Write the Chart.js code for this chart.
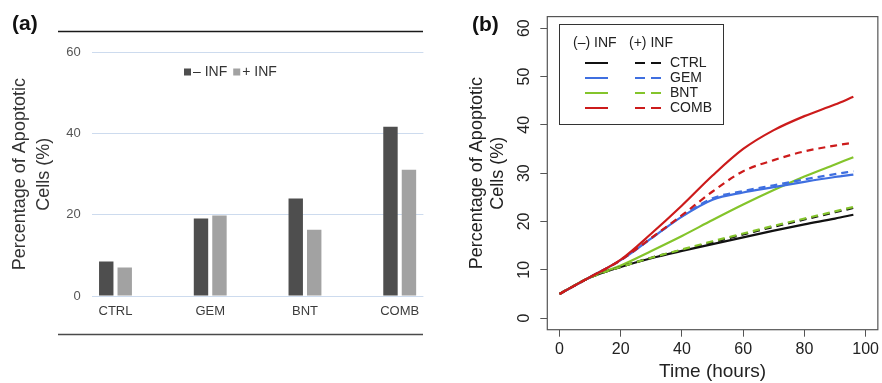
<!DOCTYPE html>
<html>
<head>
<meta charset="utf-8">
<script src="https://cdn.jsdelivr.net/npm/chart.js@4.4.1/dist/chart.umd.min.js"></script>
<style>
  html, body { margin: 0; padding: 0; background: #fff; }
  #wrap { position: relative; width: 882px; height: 383px; overflow: hidden; }
  #barChart { position: absolute; left: 0; top: 0; }
  #lineChart { position: absolute; left: 440px; top: 0; }
</style>
</head>
<body>
<div id="wrap">
  <canvas id="barChart" width="440" height="383"></canvas>
  <canvas id="lineChart" width="442" height="383"></canvas>
</div>
<script>
Chart.defaults.font.family = "'Liberation Sans', Arial, Helvetica, sans-serif";

// panel (a): apoptosis per treatment
let groups = ['CTRL', 'GEM', 'BNT', 'COMB'];
let barMinusInf = [8.5, 19.1, 24.0, 41.7];
let barPlusInf = [7.0, 19.8, 16.3, 31.1];
let barTicks = [0, 20, 40, 60];

// panel (b): simulated time course
let hours = [0, 10, 20, 30, 40, 50, 60, 70, 80, 90, 96];
let ctrlMinus = [5, 8.4, 10.6, 12.4, 13.9, 15.3, 16.7, 18.1, 19.4, 20.6, 21.4];
let ctrlPlus = [5, 8.4, 10.6, 12.5, 14.1, 15.7, 17.3, 18.9, 20.4, 21.9, 22.8];
let gemMinus = [5, 8.5, 12.0, 16.5, 21.0, 24.5, 26.0, 27.1, 28.2, 29.2, 29.7];
let gemPlus = [5, 8.5, 12.0, 16.5, 21.1, 24.8, 26.3, 27.5, 28.7, 29.8, 30.4];
let bntMinus = [5, 8.5, 10.9, 13.9, 17.0, 20.3, 23.5, 26.5, 29.3, 31.8, 33.3];
let bntPlus = [5, 8.4, 10.6, 12.5, 14.2, 15.9, 17.5, 19.1, 20.6, 22.1, 23.0];
let combMinus = [5, 8.5, 12.1, 17.5, 23.3, 29.5, 35.0, 38.9, 41.8, 44.2, 45.8];
let combPlus = [5, 8.5, 12.0, 16.6, 21.3, 26.2, 30.4, 32.7, 34.5, 35.7, 36.3];
let xTicksB = [0, 20, 40, 60, 80, 100];
let yTicksB = [0, 10, 20, 30, 40, 50, 60];
let lineColors = { CTRL: '#111111', GEM: '#3f6fe0', BNT: '#84c42b', COMB: '#cc1b1b' };

let fontStack = "'Liberation Sans', Arial, sans-serif";

let panelA = {
  id: 'panelA',
  afterDraw(chart) {
    let c = chart.ctx;
    c.save();
    c.lineWidth = 1.5;
    c.strokeStyle = '#1a1a1a';
    c.beginPath(); c.moveTo(58, 31.5); c.lineTo(423, 31.5); c.stroke();
    c.strokeStyle = '#4a4a4a';
    c.beginPath(); c.moveTo(58, 334.5); c.lineTo(423, 334.5); c.stroke();

    c.fillStyle = '#111';
    c.textBaseline = 'middle';
    c.font = 'bold 21px ' + fontStack;
    c.fillText('(a)', 12, 24);

    // legend sits inside the plot, under the 60 line
    c.font = '14px ' + fontStack;
    let x = 184, y = 72;
    chart.data.datasets.forEach(ds => {
      c.fillStyle = ds.backgroundColor;
      c.fillRect(x, y - 3.5, 7, 7);
      c.fillStyle = '#333';
      c.fillText(ds.label, x + 9, y);
      x += 9 + c.measureText(ds.label).width + 6;
    });
    c.restore();
  }
};

new Chart(document.getElementById('barChart'), {
  type: 'bar',
  data: {
    datasets: [
      {
        label: '\u2013 INF',
        data: groups.map((g, i) => ({ x: i, y: barMinusInf[i] })),
        backgroundColor: '#4e4e4e',
        categoryPercentage: 0.39,
        barPercentage: 0.78
      },
      {
        label: '+ INF',
        data: groups.map((g, i) => ({ x: i, y: barPlusInf[i] })),
        backgroundColor: '#a2a2a2',
        categoryPercentage: 0.39,
        barPercentage: 0.78
      }
    ]
  },
  options: {
    responsive: false,
    animation: false,
    devicePixelRatio: 1,
    layout: { padding: { left: 3, right: 16.6, top: 52.3, bottom: 47 } },
    plugins: { legend: { display: false }, tooltip: { enabled: false } },
    scales: {
      x: {
        type: 'linear',
        offset: false,
        min: -0.25,
        max: 3.25,
        afterBuildTicks: s => { s.ticks = groups.map((g, i) => ({ value: i })); },
        afterFit: s => { s.height = 40; },
        ticks: { callback: v => groups[v], padding: 8, color: '#3c3c3c', font: { size: 13 }, maxRotation: 0 },
        grid: { display: false, drawTicks: false, offset: false },
        border: { display: false }
      },
      y: {
        min: 0,
        max: 60,
        afterBuildTicks: s => { s.ticks = barTicks.map(v => ({ value: v })); },
        afterFit: s => { s.width = 88.8; },
        ticks: { padding: 11, color: '#555', font: { size: 13 } },
        grid: { color: '#cddbee', drawTicks: false },
        border: { display: false },
        title: {
          display: true,
          text: ['Percentage of Apoptotic', 'Cells (%)'],
          color: '#333',
          font: { size: 18, lineHeight: 1.33 },
          padding: { top: 5, bottom: 0 }
        }
      }
    }
  },
  plugins: [panelA]
});

let panelB = {
  id: 'panelB',
  afterDraw(chart) {
    let c = chart.ctx;
    let a = chart.chartArea;
    c.save();
    c.lineWidth = 1.2;
    c.strokeStyle = '#555';
    c.strokeRect(a.left, a.top, a.right - a.left, a.bottom - a.top);

    c.fillStyle = '#111';
    c.textBaseline = 'middle';
    c.font = 'bold 21px ' + fontStack;
    c.fillText('(b)', 32, 25);

    // two-column legend: solid = (-) INF, dashed = (+) INF
    c.lineWidth = 1;
    c.strokeStyle = '#333';
    c.strokeRect(119.5, 24.5, 164, 100);
    c.font = '14px ' + fontStack;
    c.fillStyle = '#222';
    c.fillText('(\u2013) INF', 133, 43);
    c.fillText('(+) INF', 189, 43);
    groups.forEach((g, i) => {
      let y = 63 + i * 15;
      c.strokeStyle = lineColors[g];
      c.lineWidth = 2;
      c.setLineDash([]);
      c.beginPath(); c.moveTo(145, y); c.lineTo(168, y); c.stroke();
      c.setLineDash([10, 6]);
      c.beginPath(); c.moveTo(195, y); c.lineTo(221, y); c.stroke();
      c.fillText(g, 230, y);
    });
    c.restore();
  }
};

let series = (label, values, color, dashed) => ({
  label: label,
  data: hours.map((h, i) => ({ x: h, y: values[i] })),
  borderColor: color,
  borderWidth: 2.2,
  borderDash: dashed ? [7, 5] : [],
  pointRadius: 0,
  cubicInterpolationMode: 'monotone',
  fill: false
});

new Chart(document.getElementById('lineChart'), {
  type: 'line',
  data: {
    datasets: [
      series('COMB (\u2013) INF', combMinus, lineColors.COMB, false),
      series('COMB (+) INF', combPlus, lineColors.COMB, true),
      series('BNT (+) INF', bntPlus, lineColors.BNT, true),
      series('CTRL (+) INF', ctrlPlus, lineColors.CTRL, true),
      series('GEM (+) INF', gemPlus, lineColors.GEM, true),
      series('GEM (\u2013) INF', gemMinus, lineColors.GEM, false),
      series('BNT (\u2013) INF', bntMinus, lineColors.BNT, false),
      series('CTRL (\u2013) INF', ctrlMinus, lineColors.CTRL, false)
    ]
  },
  options: {
    responsive: false,
    animation: false,
    devicePixelRatio: 1,
    layout: { padding: { left: 25, right: 1.3, top: 14.3, bottom: 0 } },
    plugins: { legend: { display: false }, tooltip: { enabled: false } },
    scales: {
      x: {
        type: 'linear',
        min: -4,
        max: 104,
        afterBuildTicks: s => { s.ticks = xTicksB.map(v => ({ value: v })); },
        afterFit: s => { s.height = 53.3; },
        ticks: { padding: 3, color: '#222', font: { size: 16 }, maxRotation: 0 },
        grid: { drawOnChartArea: false, tickLength: 7, color: '#555', tickColor: '#555' },
        border: { display: false },
        title: {
          display: true,
          text: 'Time (hours)',
          color: '#222',
          font: { size: 19 },
          padding: 0
        }
      },
      y: {
        min: -2.4,
        max: 62.4,
        afterBuildTicks: s => { s.ticks = yTicksB.map(v => ({ value: v })); },
        afterFit: s => { s.width = 82.3; },
        ticks: { padding: 7, color: '#222', font: { size: 16 }, minRotation: 90, maxRotation: 90, crossAlign: 'center' },
        grid: { drawOnChartArea: false, tickLength: 7, color: '#555', tickColor: '#555' },
        border: { display: false },
        title: {
          display: true,
          text: ['Percentage of Apoptotic', 'Cells (%)'],
          color: '#222',
          font: { size: 18, lineHeight: 1.14 },
          padding: { top: 2, bottom: 0 }
        }
      }
    }
  },
  plugins: [panelB]
});
</script>
</body>
</html>
